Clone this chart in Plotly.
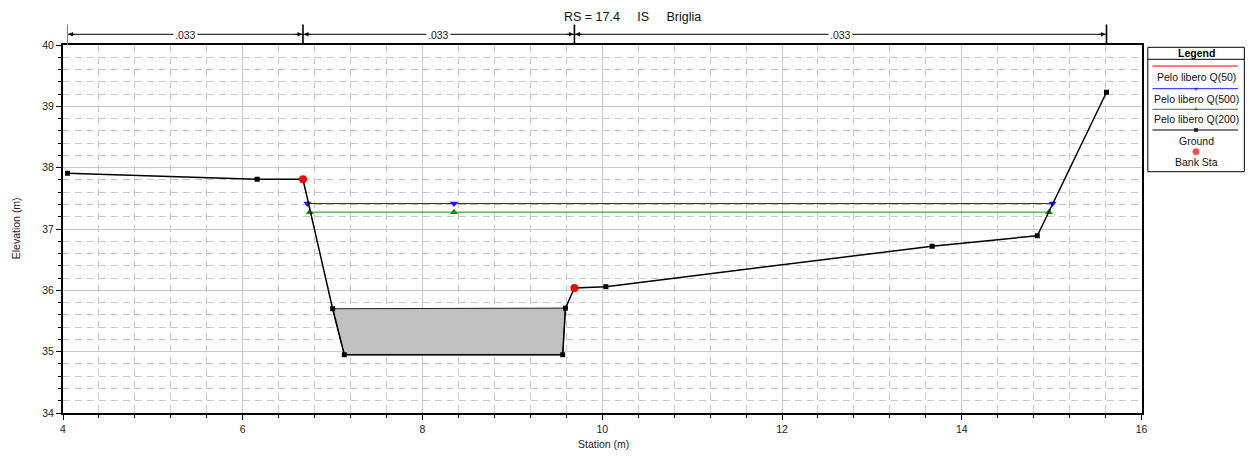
import plotly.graph_objects as go

# ---------------- data ----------------
ground_x = [4.05, 6.16, 6.67, 7.00, 7.13, 9.56, 9.59, 9.69, 10.04, 13.67, 14.84, 15.61]
ground_y = [37.91, 37.81, 37.81, 35.70, 34.95, 34.95, 35.71, 36.04, 36.06, 36.72, 36.89, 39.23]

bank_x = [6.67, 9.69]
bank_y = [37.81, 36.04]

weir_x = [7.00, 9.59, 9.56, 7.13, 7.00]
weir_y = [35.70, 35.71, 34.95, 34.95, 35.70]

q50_x = [6.72, 15.01]
q50_y = [37.415, 37.415]
q500_x = [6.72, 8.35, 15.01]
q500_y = [37.415, 37.415, 37.415]
q200_x = [6.745, 8.35, 14.97]
q200_y = [37.275, 37.275, 37.275]

n_stations = [4.05, 6.67, 9.69, 15.61]
n_values = [".033", ".033", ".033"]

title_text = "RS = 17.4\u00a0\u00a0\u00a0\u00a0\u00a0IS\u00a0\u00a0\u00a0\u00a0\u00a0Briglia"
legend_labels = ["Pelo libero Q(50)", "Pelo libero Q(500)", "Pelo libero Q(200)", "Ground", "Bank Sta"]

# ---------------- layout geometry (page pixels) ----------------
OFF = 8                                   # default body margin of the html page
W, H = 1258 - OFF, 456 - OFF              # figure size
PLOT_L, PLOT_T, PLOT_B = 63, 45, 413      # desired plot-area edges in page pixels
L = PLOT_L - OFF
T = PLOT_T - OFF
B = H - (PLOT_B - OFF)
PW = W - L
PH = H - T - B
FONT = "Liberation Sans, Arial, sans-serif"


def pxx(p):
    return (p - PLOT_L) / PW


def pxy(p):
    return (PLOT_B - p) / PH


fig = go.Figure()

fig.add_trace(go.Scatter(x=weir_x, y=weir_y, mode="lines", fill="toself",
                         fillcolor="#c0c0c0", line=dict(color="#202020", width=1),
                         hoverinfo="skip", showlegend=False))
fig.add_trace(go.Scatter(x=q50_x, y=q50_y, mode="lines", line=dict(color="red", width=1),
                         name=legend_labels[0], showlegend=False))
fig.add_trace(go.Scatter(x=q500_x, y=q500_y, mode="lines+markers",
                         line=dict(color="#2a1aee", width=1),
                         marker=dict(symbol="triangle-down", size=7, color="#1a1aff"),
                         name=legend_labels[1], showlegend=False))
fig.add_trace(go.Scatter(x=q200_x, y=q200_y, mode="lines+markers",
                         line=dict(color="#109010", width=1),
                         marker=dict(symbol="triangle-up", size=7, color="#109010"),
                         name=legend_labels[2], showlegend=False))
fig.add_trace(go.Scatter(x=ground_x, y=ground_y, mode="lines+markers",
                         line=dict(color="black", width=1.5),
                         marker=dict(symbol="square", size=5, color="black"),
                         name=legend_labels[3], showlegend=False))
fig.add_trace(go.Scatter(x=bank_x, y=bank_y, mode="markers",
                         marker=dict(symbol="circle", size=8, color="red"),
                         name=legend_labels[4], showlegend=False))

shapes = []
annotations = []

# ---------------- Manning's n bar ----------------
y_bar = pxy(34.3)
shapes.append(dict(type="line", xref="x", yref="paper", x0=n_stations[0], x1=n_stations[-1],
                   y0=y_bar, y1=y_bar, line=dict(color="black", width=1)))
for i, s in enumerate(n_stations):
    col = "#808080" if i == 0 else "black"
    wid = 1 if i == 0 else 1.6
    shapes.append(dict(type="line", xref="x", yref="paper", x0=s, x1=s,
                       y0=pxy(24.5), y1=1.0, line=dict(color=col, width=wid)))
for i, v in enumerate(n_values):
    a, b = n_stations[i], n_stations[i + 1]
    annotations.append(dict(x=(a + b) / 2, y=pxy(35.0), xref="x", yref="paper",
                            text=v, showarrow=False, bgcolor="white",
                            font=dict(family=FONT, size=10.5, color="#222"),
                            xanchor="center", yanchor="middle", borderpad=1))
    annotations.append(dict(x=a, y=y_bar, xref="x", yref="paper", text="", showarrow=True,
                            ax=9, ay=0, arrowhead=2, arrowsize=0.9, arrowwidth=1,
                            arrowcolor="black", standoff=1))
    annotations.append(dict(x=b, y=y_bar, xref="x", yref="paper", text="", showarrow=True,
                            ax=-9, ay=0, arrowhead=2, arrowsize=0.9, arrowwidth=1,
                            arrowcolor="black", standoff=1))

# ---------------- title & axis titles ----------------
annotations.append(dict(x=pxx(635), y=pxy(17), xref="paper", yref="paper", text=title_text,
                        showarrow=False, font=dict(family=FONT, size=12.5, color="#111"),
                        xanchor="center", yanchor="middle"))
annotations.append(dict(x=pxx(606), y=pxy(444), xref="paper", yref="paper", text="Station (m)",
                        showarrow=False, font=dict(family=FONT, size=10.5, color="#222"),
                        xanchor="center", yanchor="middle"))
annotations.append(dict(x=pxx(16), y=pxy(228), xref="paper", yref="paper", text="Elevation (m)",
                        showarrow=False, textangle=-90,
                        font=dict(family=FONT, size=10.5, color="#222"),
                        xanchor="center", yanchor="middle"))

# ---------------- custom legend (x2/y2 in page pixel units) ----------------
LX0, LX1, LY0, LY1 = 1150, 1255, 45, 176
shapes.append(dict(type="rect", xref="x2", yref="y2", x0=1153.3, x1=1250.3, y0=47.3, y1=171.7,
                   line=dict(color="black", width=1), fillcolor="white", layer="below"))
shapes.append(dict(type="line", xref="x2", yref="y2", x0=1153.3, x1=1250.3, y0=59.3, y1=59.3,
                   line=dict(color="black", width=1)))
annotations.append(dict(x=1201.8, y=53.3, xref="x2", yref="y2", text="<b>Legend</b>",
                        showarrow=False, font=dict(family=FONT, size=10.5, color="black"),
                        xanchor="center", yanchor="middle"))
leg_line_y = [66.0, 88.7, 109.3, 130.0]
leg_text_y = [76.7, 99.3, 119.3, 140.7, 161.7]
leg_cols = ["red", "#1a1aff", "#109010", "black"]
for yy, c in zip(leg_line_y, leg_cols):
    shapes.append(dict(type="line", xref="x2", yref="y2", x0=1158, x1=1244, y0=yy, y1=yy,
                       line=dict(color=c, width=1)))
for yy, t in zip(leg_text_y, legend_labels):
    annotations.append(dict(x=1201.8, y=yy, xref="x2", yref="y2", text=t, showarrow=False,
                            font=dict(family=FONT, size=10.5, color="#111"),
                            xanchor="center", yanchor="middle"))
fig.add_trace(go.Scatter(x=[1201.7, 1201.7, 1201.7, 1201.7],
                         y=[leg_line_y[1], leg_line_y[2], leg_line_y[3], 151.7],
                         xaxis="x2", yaxis="y2", mode="markers",
                         marker=dict(symbol=["triangle-down", "triangle-up", "square", "circle"],
                                     size=[6, 6, 5, 8],
                                     color=["#1a1aff", "#109010", "black", "red"]),
                         hoverinfo="skip", showlegend=False))

grid_col = "#c8c8c8"
fig.update_layout(
    width=W, height=H,
    margin=dict(l=L, r=0, t=T, b=B, pad=0),
    paper_bgcolor="white", plot_bgcolor="white",
    font=dict(family=FONT, size=10.5, color="#222"),
    showlegend=False,
    shapes=shapes, annotations=annotations,
    xaxis=dict(domain=[0, pxx(1147)], range=[4, 16], dtick=2, tick0=0,
               showgrid=True, gridcolor=grid_col, gridwidth=1,
               showline=True, linecolor="black", linewidth=2, mirror=True,
               ticks="outside", ticklen=5, tickcolor="black", tickwidth=1,
               zeroline=False,
               minor=dict(dtick=0.4, tick0=0, showgrid=True, gridcolor=grid_col,
                          griddash="7px,5px", gridwidth=1, ticks="outside", ticklen=3,
                          tickcolor="black")),
    yaxis=dict(domain=[0, 1], range=[34, 40], dtick=1, tick0=0,
               showgrid=True, gridcolor=grid_col, gridwidth=1,
               showline=True, linecolor="black", linewidth=2, mirror=True,
               ticks="outside", ticklen=5, tickcolor="black", tickwidth=1,
               zeroline=False,
               minor=dict(dtick=0.2, tick0=0, showgrid=True, gridcolor=grid_col,
                          griddash="7px,5px", gridwidth=1, ticks="outside", ticklen=3,
                          tickcolor="black")),
    xaxis2=dict(domain=[pxx(LX0), pxx(LX1)], range=[LX0, LX1], visible=False, anchor="y2"),
    yaxis2=dict(domain=[pxy(LY1), pxy(LY0)], range=[LY1, LY0], visible=False, anchor="x2"),
)

fig.write_html("out.html")
